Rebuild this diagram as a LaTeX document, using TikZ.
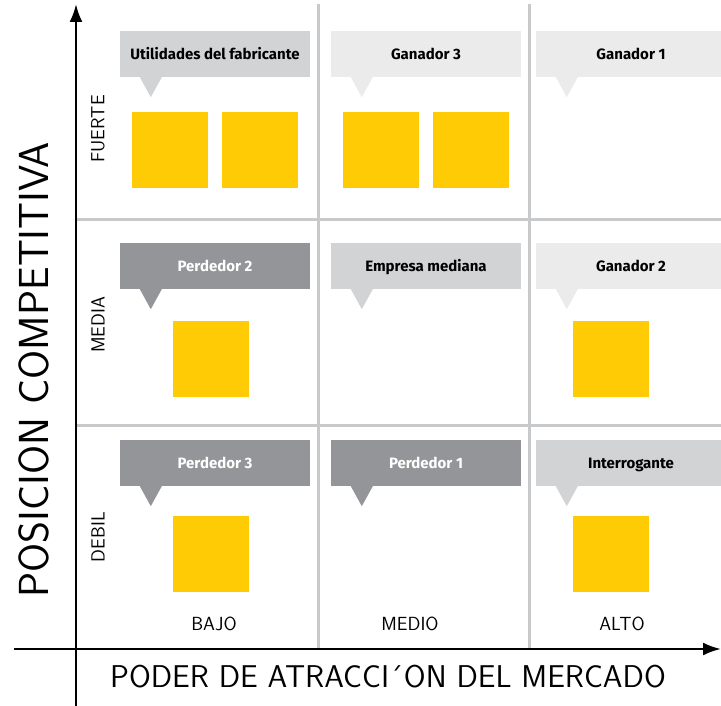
\documentclass[tikz,border=0pt]{standalone}
\usepackage{fontspec}
\usepackage{xcolor}
\usepackage{tikz}
\usetikzlibrary{calc}
\usetikzlibrary{arrows.meta}

\newfontfamily\globofont{Fira Sans}

\definecolor{amarillo}{HTML}{FFCB05}
\definecolor{grisoscuro}{HTML}{939598}
\definecolor{grismedio}{HTML}{D1D3D4}
\definecolor{grisclaro}{HTML}{EBEBEC}
\definecolor{lineagrid}{HTML}{C8C9CB}

\tikzset{
    caja/.style={fill=amarillo, minimum width=76, minimum height=76, inner sep=0pt},
    globo/.style={minimum width=190, minimum height=46, inner sep=0pt, text height=11pt, text depth=0pt, font=\globofont\bfseries\fontsize{15}{15}\selectfont},
    globo claro/.style={globo, fill=grisclaro, text=black},
    globo medio/.style={globo, fill=grismedio, text=black},
    globo oscuro/.style={globo, fill=grisoscuro, text=white},
    eje/.style={line width=2.5pt, -{Latex[length=18pt, width=13pt]}},
    rejilla/.style={line width=3pt, color=lineagrid},
    nivel/.style={font=\sffamily\fontsize{19}{19}\selectfont},
}

\begin{document}
\begin{tikzpicture}[x=1pt, y=-1pt]
    \useasboundingbox (0,0) rectangle (721,706);

    %REJILLA
    \draw[rejilla] (318,4) -- (318,649);
    \draw[rejilla] (529,4) -- (529,649);
    \draw[rejilla] (76,220) -- (721,220);
    \draw[rejilla] (76,425) -- (721,425);

    %GLOBOS
    \node[globo medio] (utilidades) at (215,54) {Utilidades del fabricante};
    \fill[grismedio] ($(utilidades.south west)+(20,0)$) -- ++(22,0) -- ($(utilidades.south west)+(31,20)$) -- cycle;

    \node[globo claro] (ganador3) at (426,54) {Ganador 3};
    \fill[grisclaro] ($(ganador3.south west)+(20,0)$) -- ++(22,0) -- ($(ganador3.south west)+(31,20)$) -- cycle;

    \node[globo claro] (ganador1) at (631,54) {Ganador 1};
    \fill[grisclaro] ($(ganador1.south west)+(20,0)$) -- ++(22,0) -- ($(ganador1.south west)+(31,20)$) -- cycle;

    \node[globo oscuro] (perdedor2) at (215,266) {Perdedor 2};
    \fill[grisoscuro] ($(perdedor2.south west)+(20,0)$) -- ++(22,0) -- ($(perdedor2.south west)+(31,20)$) -- cycle;

    \node[globo medio] (mediana) at (426,266) {Empresa mediana};
    \fill[grismedio] ($(mediana.south west)+(20,0)$) -- ++(22,0) -- ($(mediana.south west)+(31,20)$) -- cycle;

    \node[globo claro] (ganador2) at (631,266) {Ganador 2};
    \fill[grisclaro] ($(ganador2.south west)+(20,0)$) -- ++(22,0) -- ($(ganador2.south west)+(31,20)$) -- cycle;

    \node[globo oscuro] (perdedor3) at (215,463) {Perdedor 3};
    \fill[grisoscuro] ($(perdedor3.south west)+(20,0)$) -- ++(22,0) -- ($(perdedor3.south west)+(31,20)$) -- cycle;

    \node[globo oscuro] (perdedor1) at (426,463) {Perdedor 1};
    \fill[grisoscuro] ($(perdedor1.south west)+(20,0)$) -- ++(22,0) -- ($(perdedor1.south west)+(31,20)$) -- cycle;

    \node[globo medio] (interrogante) at (631,463) {Interrogante};
    \fill[grismedio] ($(interrogante.south west)+(20,0)$) -- ++(22,0) -- ($(interrogante.south west)+(31,20)$) -- cycle;

    %CAJAS
    \node[caja] (caja1) at (170,150) {};
    \node[caja] (caja2) at (260,150) {};
    \node[caja] (caja3) at (381,150) {};
    \node[caja] (caja4) at (471,150) {};
    \node[caja] (caja5) at (211,359) {};
    \node[caja] (caja6) at (611,359) {};
    \node[caja] (caja7) at (211,554) {};
    \node[caja] (caja8) at (611,554) {};

    %EJES
    \coordinate (ejeyini) at (76,706);
    \coordinate (ejeyfin) at (76,4);
    \coordinate (ejexini) at (14,649);
    \coordinate (ejexfin) at (721,649);
    \draw[eje] (ejeyini) -- (ejeyfin);
    \draw[eje] (ejexini) -- (ejexfin);

    %ETIQUETAS
    \node[rotate=90, font=\sffamily\fontsize{42}{42}\selectfont] (posicion) at (34,370) {POSICION COMPETITIVA};
    \node[font=\sffamily\fontsize{31.5}{31.5}\selectfont] (poder) at (388,677) {PODER DE ATRACCI´ON DEL MERCADO};

    \node[nivel, rotate=90] (fuerte) at (98,129) {FUERTE};
    \node[nivel, rotate=90] (media) at (98,325) {MEDIA};
    \node[nivel, rotate=90] (debil) at (98,537) {DEBIL};

    \node[nivel] (bajo) at (214,624) {BAJO};
    \node[nivel] (medio) at (410,624) {MEDIO};
    \node[nivel] (alto) at (622,624) {ALTO};

\end{tikzpicture}
\end{document}
